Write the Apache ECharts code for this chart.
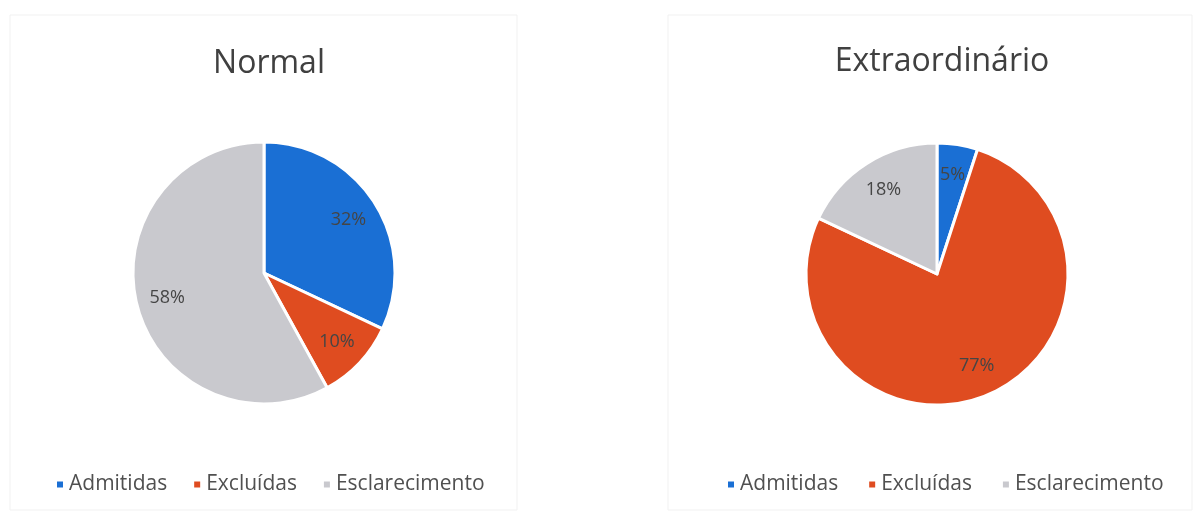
<!DOCTYPE html>
<html>
<head>
<meta charset="utf-8">
<script src="https://cdn.jsdelivr.net/npm/echarts@6/dist/echarts.min.js"></script>
<style>
  html, body { margin: 0; padding: 0; background: #fff; }
  #chart { width: 1193px; height: 516px; }
</style>
</head>
<body>
<div id="chart"></div>
<script>
// categorias e valores (percentuais)
var categorias = ["Admitidas", "Excluídas", "Esclarecimento"];
var normal = [32, 10, 58];
var extraordinario = [5, 77, 18];
var cores = ["#1a6fd4", "#df4c20", "#c9c9ce"];

var chart = echarts.init(document.getElementById("chart"));

function dados(valores) {
  return categorias.map(function(nome, i) {
    return { name: nome, value: valores[i] };
  });
}

// pizza sem rótulos
function pizza(valores, centro) {
  return {
    type: "pie",
    center: centro,
    radius: 131,
    startAngle: 90,
    clockwise: true,
    data: dados(valores),
    label: { show: false },
    labelLine: { show: false },
    itemStyle: { borderColor: "#fff", borderWidth: 3 },
    emphasis: { disabled: true }
  };
}

// anel transparente só para posicionar os rótulos (~0.74r do centro)
function rotulos(valores, centro) {
  return {
    type: "pie",
    center: centro,
    radius: [63, 131],
    startAngle: 90,
    clockwise: true,
    silent: true,
    data: dados(valores),
    itemStyle: { color: "rgba(0,0,0,0)", borderWidth: 0 },
    label: {
      show: true,
      position: "inside",
      formatter: "{c}%",
      fontFamily: "Open Sans",
      fontSize: 18,
      color: "#454545"
    },
    labelLine: { show: false },
    emphasis: { disabled: true }
  };
}

var legendaBase = {
  data: categorias,
  icon: "rect",
  itemWidth: 8,
  itemHeight: 8,
  itemGap: 25,
  top: 469,
  textStyle: { fontFamily: "Open Sans", fontSize: 21, color: "#505050" }
};

var option = {
  color: cores,
  title: [
    {
      text: "Normal",
      left: 264,
      textAlign: "center",
      top: 43,
      textStyle: { fontFamily: "Open Sans", fontSize: 32, fontWeight: "normal", color: "#404040" }
    },
    {
      text: "Extraordinário",
      left: 937,
      textAlign: "center",
      top: 41,
      textStyle: { fontFamily: "Open Sans", fontSize: 32, fontWeight: "normal", color: "#404040" }
    }
  ],
  legend: [
    Object.assign({}, legendaBase, { left: 50 }),
    Object.assign({}, legendaBase, { left: 721, itemGap: 29 })
  ],
  graphic: [
    { type: "rect", shape: { x: 10, y: 15, width: 507, height: 495 }, style: { fill: "none", stroke: "#f1f1f1", lineWidth: 1 }, silent: true },
    { type: "rect", shape: { x: 668, y: 15, width: 524, height: 495 }, style: { fill: "none", stroke: "#f1f1f1", lineWidth: 1 }, silent: true }
  ],
  series: [
    pizza(normal, [264, 273]),
    rotulos(normal, [264, 273]),
    pizza(extraordinario, [937, 274]),
    rotulos(extraordinario, [937, 274])
  ]
};

chart.setOption(option);
</script>
</body>
</html>
